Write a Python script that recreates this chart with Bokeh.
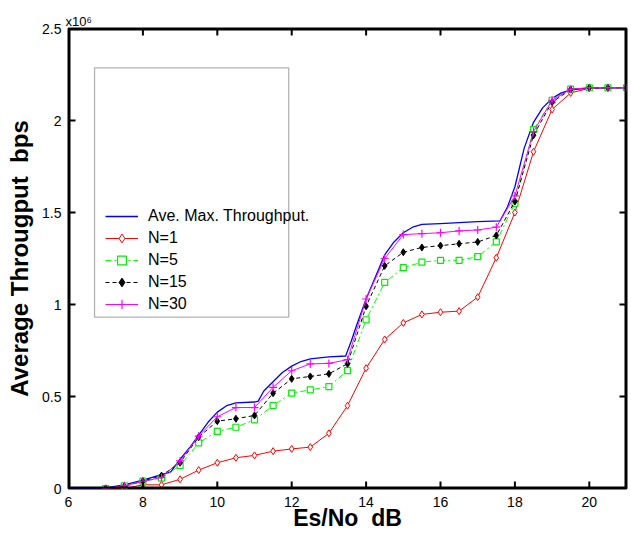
from bokeh.plotting import figure
from bokeh.models import (Range1d, FixedTicker, Legend, LegendItem, BoxAnnotation, Title)
from bokeh.embed import file_html
from bokeh.resources import INLINE

# ---- data (throughput in units of 1e6 bps) ----
x_max = [6.0, 6.5, 6.9, 7.5, 8.0, 8.5, 8.75, 9.0, 9.25, 9.5, 9.75, 10.0, 10.25, 10.5,
         11.0, 11.1, 11.25, 11.5, 11.75, 12.0, 12.25, 12.5, 13.0, 13.45, 13.6, 13.75,
         14.0, 14.25, 14.5, 14.75, 15.0, 15.25, 15.5, 16.0, 16.5, 17.0, 17.6, 17.8,
         18.0, 18.25, 18.5, 18.75, 19.0, 19.25, 19.5, 20.0, 21.0]
y_max = [0.0, 0.0, 0.0, 0.02, 0.045, 0.075, 0.09, 0.16, 0.22, 0.29, 0.36, 0.415, 0.45, 0.465,
         0.47, 0.475, 0.53, 0.58, 0.63, 0.665, 0.69, 0.705, 0.715, 0.72, 0.80, 0.89,
         1.03, 1.15, 1.27, 1.34, 1.39, 1.42, 1.435, 1.44, 1.445, 1.45, 1.455, 1.53,
         1.64, 1.85, 1.99, 2.07, 2.12, 2.15, 2.167, 2.176, 2.178]

x_n = [7.0, 7.5, 8.0, 8.5, 9.0, 9.5, 10.0, 10.5, 11.0, 11.5, 12.0, 12.5, 13.0, 13.5,
       14.0, 14.5, 15.0, 15.5, 16.0, 16.5, 17.0, 17.5, 18.0, 18.5, 19.0, 19.5, 20.0,
       20.5, 21.0]
y_n1 = [0.0, 0.0, 0.02, 0.02, 0.05, 0.10, 0.14, 0.167, 0.18, 0.203, 0.215, 0.225, 0.30,
        0.45, 0.654, 0.81, 0.90, 0.946, 0.958, 0.964, 1.04, 1.254, 1.50, 1.83, 2.06,
        2.15, 2.175, 2.178, 2.178]
y_n5 = [0.0, 0.015, 0.04, 0.056, 0.125, 0.248, 0.31, 0.333, 0.373, 0.451, 0.518, 0.536,
        0.554, 0.641, 0.917, 1.12, 1.20, 1.23, 1.24, 1.24, 1.26, 1.34, 1.55, 1.95, 2.11,
        2.17, 2.178, 2.178, 2.178]
y_n15 = [0.0, 0.012, 0.04, 0.07, 0.14, 0.28, 0.366, 0.379, 0.397, 0.518, 0.596, 0.609,
         0.623, 0.678, 0.99, 1.21, 1.284, 1.31, 1.32, 1.33, 1.34, 1.375, 1.56, 1.92, 2.10,
         2.168, 2.178, 2.178, 2.178]
y_n30 = [0.0, 0.015, 0.038, 0.06, 0.15, 0.285, 0.39, 0.44, 0.44, 0.55, 0.64, 0.677, 0.68,
         0.70, 1.03, 1.25, 1.38, 1.385, 1.39, 1.40, 1.405, 1.42, 1.59, 1.94, 2.11, 2.17,
         2.178, 2.178, 2.178]

x_ticks = [6, 8, 10, 12, 14, 16, 18, 20]
y_ticks = [0, 0.5, 1, 1.5, 2, 2.5]
y_tick_labels = ["0", "0.5", "1", "1.5", "2", "2.5"]
legend_labels = ["Ave. Max. Throughput.", "N=1", "N=5", "N=15", "N=30"]

X0, X1, Y0, Y1 = 6, 21, 0, 2.5
FONT = "Liberation Sans"

p = figure(width=631, height=533, output_backend="svg", toolbar_location=None,
           x_range=Range1d(X0, X1), y_range=Range1d(Y0, Y1),
           min_border_left=68, min_border_right=5, min_border_top=28, min_border_bottom=45)
p.xgrid.visible = False
p.ygrid.visible = False
p.outline_line_color = "black"
p.outline_line_width = 2
p.background_fill_color = "white"
p.border_fill_color = "white"

def style_axis(ax):
    ax.axis_line_color = None
    ax.major_tick_in = 0
    ax.major_tick_out = 0
    ax.major_tick_line_color = None
    ax.minor_tick_line_color = None
    ax.major_label_text_font = FONT
    ax.major_label_text_font_size = "14px"
    ax.major_label_text_color = "black"
    ax.axis_label_text_font = FONT
    ax.axis_label_text_font_style = "bold"
    ax.axis_label_text_font_size = "24px"
    ax.axis_label_text_color = "black"

xax = p.xaxis[0]
xax.ticker = FixedTicker(ticks=x_ticks)
xax.axis_label = "Es/No\u00a0 dB"
style_axis(xax)
xax.axis_label_text_font_size = "23px"
xax.major_label_standoff = 8
xax.axis_label_standoff = -5

yax = p.yaxis[0]
yax.ticker = FixedTicker(ticks=y_ticks)
yax.major_label_overrides = {t: l for t, l in zip(y_ticks, y_tick_labels)}
yax.axis_label = "Average Througput\u00a0 bps"
style_axis(yax)
yax.major_label_standoff = 7
yax.axis_label_standoff = 6

# exponent note above the frame
p.add_layout(Title(text="x10\u2076", align="left", offset=-3, standoff=0,
                   text_font=FONT, text_font_size="13px", text_font_style="normal",
                   text_color="black"), "above")

# curves
r_max = p.line(x_max, y_max, line_color="#0000ff", line_width=1.3)

l1 = p.line(x_n, y_n1, line_color="#ff0000", line_width=1)
s1 = p.scatter(x_n, y_n1, marker="diamond", size=7, line_color="#ff0000",
               fill_color="white", line_width=1)

l5 = p.line(x_n, y_n5, line_color="#00ff00", line_width=1, line_dash="6 3 2 3")
s5 = p.scatter(x_n, y_n5, marker="square", size=6, line_color="#00ee00",
               fill_color="white", line_width=1.2)

l15 = p.line(x_n, y_n15, line_color="black", line_width=1, line_dash="4 3")
s15 = p.scatter(x_n, y_n15, marker="diamond", size=7, line_color="black",
                fill_color="black")

l30 = p.line(x_n, y_n30, line_color="#ff00ff", line_width=1)
s30 = p.scatter(x_n, y_n30, marker="cross", size=8, line_color="#ff00ff", line_width=1.2)

# heavy frame edges and inward ticks as filled bars (half of each bar lies inside the frame)
nx, ny = len(x_ticks), len(y_ticks)
bar_kw = dict(fill_color="black", line_color=None)
xm, ym = (X0 + X1) / 2, (Y0 + Y1) / 2
p.rect(x=[xm, xm], y=[Y0, Y1], width=X1 - X0, height=4, height_units="screen", **bar_kw)
p.rect(x=[X0, X1], y=[ym, ym], width=4, height=Y1 - Y0, width_units="screen", **bar_kw)
p.rect(x=x_ticks + x_ticks, y=[Y0] * nx + [Y1] * nx, width=2, height=14,
       width_units="screen", height_units="screen", **bar_kw)
p.rect(x=[X0] * ny + [X1] * ny, y=y_ticks + y_ticks, width=14, height=2,
       width_units="screen", height_units="screen", **bar_kw)

# legend frame (large box as in the original)
p.add_layout(BoxAnnotation(left=6.70, right=11.92, bottom=0.931, top=2.286,
                           fill_alpha=0, line_color="black", line_width=1.3,
                           level="overlay"))

legend = Legend(items=[
    LegendItem(label=legend_labels[0], renderers=[r_max]),
    LegendItem(label=legend_labels[1], renderers=[l1, s1]),
    LegendItem(label=legend_labels[2], renderers=[l5, s5]),
    LegendItem(label=legend_labels[3], renderers=[l15, s15]),
    LegendItem(label=legend_labels[4], renderers=[l30, s30]),
], location=(37, 173), border_line_alpha=0, background_fill_alpha=0, padding=0,
    margin=0, spacing=0, label_height=22, glyph_height=22, glyph_width=33,
    label_standoff=10, label_text_font=FONT, label_text_font_size="16px",
    label_text_color="black")
p.add_layout(legend)

open("out.html", "w").write(file_html(p, INLINE))
